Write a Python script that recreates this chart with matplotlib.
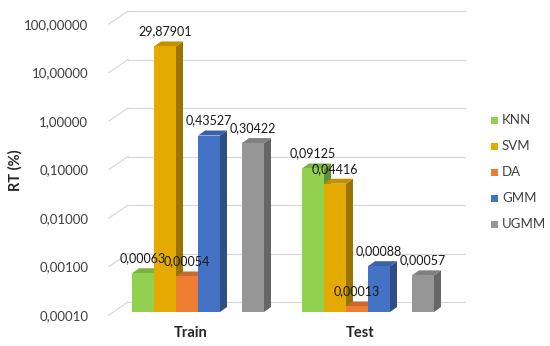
import numpy as np
import matplotlib
matplotlib.use("Agg")
import matplotlib.pyplot as plt
from matplotlib.patches import Polygon, Rectangle
from matplotlib.colors import to_rgb
from matplotlib.transforms import ScaledTranslation

plt.rcParams['font.family'] = ['Lato', 'DejaVu Sans']

# data
groups = ['Train', 'Test']
series = ['KNN', 'SVM', 'DA', 'GMM', 'UGMM']
knn = [0.00063, 0.09125]
svm = [29.87901, 0.04416]
da = [0.00054, 0.00013]
gmm = [0.43527, 0.00088]
ugmm = [0.30422, 0.00057]
values = [knn, svm, da, gmm, ugmm]
yticks = [0.0001, 0.001, 0.01, 0.1, 1, 10, 100]

colors = ['#92d050', '#e4aa00', '#ed7d31', '#4472c4', '#969696']

W, H = 550, 346
fig = plt.figure(figsize=(W / 100, H / 100), dpi=100)

# front plane in pixels
left_px, right_px = 109, 465
bottom_px, top_px = 312, 21
ax = fig.add_axes([left_px / W, 1 - bottom_px / H,
                   (right_px - left_px) / W, (bottom_px - top_px) / H])
ax.set_yscale('log')
ax.set_ylim(1e-4, 100)
slot_px = 22.0
decade_px = (bottom_px - top_px) / 6.0
ax.set_xlim(0, (right_px - left_px) / slot_px)


def up(px):
    # multiplicative factor for a vertical pixel shift on the log axis
    return 10 ** (px / decade_px)


# gridlines on the back wall
gx = 19 / slot_px
for v in yticks:
    ax.plot([0, gx], [v * up(-3), v * up(10)], color='#d9d9d9', lw=0.9,
            clip_on=False, zorder=0)
    ax.plot([gx, ax.get_xlim()[1]], [v * up(10), v * up(10)], color='#d9d9d9',
            lw=0.9, clip_on=False, zorder=0)


def shade(c, f):
    r, g, b = to_rgb(c)
    return (r * f, g * f, b * f)


group_start = [(132 - left_px) / slot_px, (302 - left_px) / slot_px]
slots = [0, 1, 2, 3, 5]
depth_x = 7 / slot_px
depth_f = up(5)
base = 1e-4
z = 2
for gi, g0 in enumerate(group_start):
    for si, name in enumerate(series):
        v = values[si][gi]
        x0 = g0 + slots[si]
        x1 = x0 + 1
        c = colors[si]
        front = Polygon([(x0, base), (x1, base), (x1, v), (x0, v)],
                        closed=True, fc=c, ec='none', zorder=z)
        side = Polygon([(x1, base), (x1, v), (x1 + depth_x, v * depth_f),
                        (x1 + depth_x, base * depth_f)],
                       closed=True, fc=shade(c, 0.68), ec='none', zorder=z)
        top = Polygon([(x0, v), (x1, v), (x1 + depth_x, v * depth_f),
                       (x0 + depth_x, v * depth_f)],
                      closed=True, fc=shade(c, 0.85), ec='none', zorder=z)
        for p in (side, top, front):
            p.set_clip_on(False)
            ax.add_patch(p)
        # value labels sit above all bars
        ax.annotate(f"{v:.5f}".replace('.', ','), (x0 + 0.5, v),
                    xytext=(0, 15), textcoords='offset pixels',
                    ha='center', va='center', fontsize=9, color='#1a1a1a',
                    zorder=100, annotation_clip=False)
        z += 2

# axes styling
for s in ax.spines.values():
    s.set_visible(False)
ax.set_yticks(yticks)
ax.set_yticklabels([f"{v:.5f}".replace('.', ',') for v in yticks])
ax.minorticks_off()
ax.tick_params(axis='y', length=0, pad=15, labelsize=9.5, labelcolor='#404040')
for lab in ax.get_yticklabels():
    lab.set_transform(lab.get_transform() +
                      ScaledTranslation(0, -3 / 100, fig.dpi_scale_trans))
ax.set_xticks([])
ax.set_facecolor('none')

for gi, g0 in enumerate(group_start):
    t = ax.text(g0 + 2.65, 1e-4, groups[gi], ha='center', va='center',
                fontsize=10.5, fontweight='bold', color='#262626')
    t.set_transform(ax.transData +
                    ScaledTranslation(0, -21 / 100, fig.dpi_scale_trans))

fig.text(15 / W, 1 - 170 / H, 'RT (%)', rotation=90, ha='center', va='center',
         fontsize=10.5, fontweight='bold', color='#262626')

# legend
for i, name in enumerate(series):
    yc = 120 + 26 * i
    fig.add_artist(Rectangle((491 / W, 1 - (yc + 3.5) / H), 7 / W, 7 / H,
                             transform=fig.transFigure, fc=colors[i], ec='none'))
    fig.text(502 / W, 1 - yc / H, name, ha='left', va='center', fontsize=9.5,
             color='#404040')

fig.savefig('out.png', dpi=100)
